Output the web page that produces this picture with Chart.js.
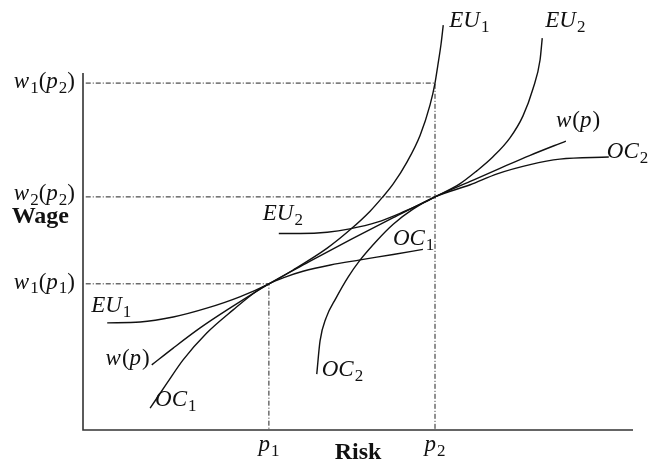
<!DOCTYPE html>
<html><head><meta charset="utf-8">
<script src="https://cdn.jsdelivr.net/npm/chart.js@4"></script>
<style>html,body{margin:0;padding:0;background:#fff;} canvas{display:block;}</style>
</head><body>
<canvas id="c" width="652" height="462"></canvas>
<script>
// ---- tick positions and labels ----
const riskTicks = [33.8, 64.0];
const riskTickLabels = ['p_1', 'p_2'];
const wageTicks = [34.8, 55.5, 82.6];
const wageTickLabels = ['w_1(p_1)', 'w_2(p_2)', 'w_1(p_2)'];
const axisTitles = ['Risk', 'Wage'];
const axisMax = [100, 85];

// ---- curves (risk, wage) ----
const eu1Risk = [4.4, 10.4, 16.4, 22.5, 28.5, 33.8, 38.2, 44.4, 48.5, 52.2, 54.5, 56.4, 58.9, 61.3, 63.1, 64.0, 64.5, 65.1, 65.5];
const eu1Wage = [25.5, 25.7, 26.9, 29.0, 31.7, 34.8, 38.1, 43.3, 47.6, 52.1, 55.5, 58.6, 63.8, 70.2, 77.4, 82.6, 86.7, 91.9, 96.4];

const eu2Risk = [35.6, 39.5, 44.4, 48.5, 53.5, 58.2, 61.3, 64.0, 68.5, 71.6, 74.5, 77.6, 80.0, 81.8, 83.1, 83.5];
const eu2Wage = [46.8, 46.8, 47.1, 47.9, 49.5, 51.9, 53.7, 55.5, 58.6, 61.7, 65.0, 69.5, 74.8, 81.2, 88.1, 93.3];

const wRisk = [12.5, 16.4, 21.3, 26.7, 33.8, 41.3, 48.9, 56.5, 64.0, 70.4, 75.8, 81.3, 87.8];
const wWage = [15.5, 19.5, 24.3, 29.0, 34.8, 40.2, 45.5, 50.6, 55.5, 59.2, 62.3, 65.4, 68.8];

const oc1Risk = [12.2, 15.3, 18.2, 22.5, 27.3, 31.6, 33.8, 36.5, 40.0, 45.0, 50.4, 56.4, 61.8];
const oc1Wage = [5.2, 11.2, 16.7, 23.1, 28.6, 33.1, 34.8, 36.3, 37.8, 39.3, 40.5, 41.8, 43.0];

const oc2Risk = [42.5, 43.1, 44.2, 46.0, 48.2, 50.4, 53.5, 56.4, 60.0, 64.0, 70.4, 75.3, 81.3, 86.7, 95.6];
const oc2Wage = [13.3, 21.2, 26.7, 31.4, 36.4, 40.5, 45.2, 49.0, 52.6, 55.5, 58.4, 61.0, 63.2, 64.5, 65.0];

const curveNames = ['EU_1', 'EU_2', 'w(p)', 'OC_1', 'OC_2'];

// ---- helpers ----
const pts = (xs, ys) => xs.map((x, i) => ({x: x, y: ys[i]}));
const FAM = '"Liberation Serif","Times New Roman",serif';

function segs(str) {
  const out = [];
  for (let i = 0; i < str.length; i++) {
    let ch = str[i], sub = false;
    if (ch === '_') { sub = true; ch = str[++i]; }
    const italic = /[A-Za-z]/.test(ch);
    const last = out[out.length - 1];
    if (last && last.sub === sub && last.italic === italic) last.t += ch;
    else out.push({t: ch, sub: sub, italic: italic});
  }
  return out;
}
function drawRich(ctx, str, x, y, align, size) {
  const parts = segs(str);
  const fontOf = p => (p.italic ? 'italic ' : '') + (p.sub ? Math.round(size * 0.72) : size) + 'px ' + FAM;
  let w = 0;
  parts.forEach(p => { ctx.font = fontOf(p); p.w = ctx.measureText(p.t).width + (p.italic ? 1 : 0); w += p.w; });
  let cx = align === 'right' ? x - w : align === 'center' ? x - w / 2 : x;
  ctx.textAlign = 'left';
  ctx.textBaseline = 'alphabetic';
  parts.forEach(p => { ctx.font = fontOf(p); ctx.fillText(p.t, cx, y + (p.sub ? size * 0.2 : 0)); cx += p.w; });
}

const curveStyle = {showLine: true, borderColor: '#111', borderWidth: 1.4, pointRadius: 0, cubicInterpolationMode: 'monotone', fill: false};
const guideStyle = {showLine: true, borderColor: '#222', borderWidth: 1, pointRadius: 0, tension: 0, borderDash: [5, 2, 1, 2], fill: false};

const curves = [[eu1Risk, eu1Wage], [eu2Risk, eu2Wage], [wRisk, wWage], [oc1Risk, oc1Wage], [oc2Risk, oc2Wage]];

const datasets = curves.map((c, i) => Object.assign({label: curveNames[i], data: pts(c[0], c[1])}, curveStyle));
datasets.push(Object.assign({label: 'g1', data: [{x: 0.5, y: wageTicks[2]}, {x: riskTicks[1], y: wageTicks[2]}, {x: riskTicks[1], y: 0}]}, guideStyle));
datasets.push(Object.assign({label: 'g2', data: [{x: 0.5, y: wageTicks[1]}, {x: riskTicks[1], y: wageTicks[1]}]}, guideStyle));
datasets.push(Object.assign({label: 'g3', data: [{x: 0.5, y: wageTicks[0]}, {x: riskTicks[0], y: wageTicks[0]}, {x: riskTicks[0], y: 0}]}, guideStyle));

// label placement relative to curve start / end (pixels)
const labelPlace = [
  {end: [6, 2, 'left'],   start: [-16, -11, 'left']},
  {end: [3, -11, 'left'], start: [-16, -13, 'left']},
  {end: [-10, -14, 'left'], start: [-2, 0, 'right']},
  {end: [-30, -4, 'left'], start: [5, -2, 'left']},
  {end: [-2, 1, 'left'],  start: [5, 2, 'left']}
];

const bg = {id: 'bg', beforeDraw(ch) { const c = ch.ctx; c.save(); c.fillStyle = '#fff'; c.fillRect(0, 0, ch.width, ch.height); c.restore(); }};

const deco = {
  id: 'deco',
  afterDraw(ch) {
    const c = ch.ctx, xs = ch.scales.x, ys = ch.scales.y;
    c.save();
    // axes
    c.strokeStyle = '#333'; c.lineWidth = 1.6; c.setLineDash([]);
    c.beginPath();
    c.moveTo(xs.getPixelForValue(0), ys.getPixelForValue(axisMax[1]));
    c.lineTo(xs.getPixelForValue(0), ys.getPixelForValue(0));
    c.lineTo(xs.getPixelForValue(axisMax[0]), ys.getPixelForValue(0));
    c.stroke();
    c.fillStyle = '#111';
    const size = 23;
    // x tick labels
    riskTicks.forEach((t, i) => drawRich(c, riskTickLabels[i], xs.getPixelForValue(t), ys.getPixelForValue(0) + 21, 'center', size));
    // y tick labels
    wageTicks.forEach((t, i) => drawRich(c, wageTickLabels[i], xs.getPixelForValue(0) - 8, ys.getPixelForValue(t) + (i === 1 ? 3 : 5), 'right', size));
    // axis titles
    c.font = 'bold 24px ' + FAM; c.textAlign = 'center'; c.textBaseline = 'alphabetic';
    c.fillText(axisTitles[0], (ch.chartArea.left + ch.chartArea.right) / 2, ys.getPixelForValue(0) + 29);
    c.textAlign = 'right';
    c.fillText(axisTitles[1], xs.getPixelForValue(0) - 14, ys.getPixelForValue(wageTicks[1]) + 26);
    // curve labels
    curves.forEach((cv, i) => {
      const n = cv[0].length;
      const s = [xs.getPixelForValue(cv[0][0]), ys.getPixelForValue(cv[1][0])];
      const e = [xs.getPixelForValue(cv[0][n - 1]), ys.getPixelForValue(cv[1][n - 1])];
      const pe = labelPlace[i].end, ps = labelPlace[i].start;
      drawRich(c, curveNames[i], e[0] + pe[0], e[1] + pe[1], pe[2], size);
      drawRich(c, curveNames[i], s[0] + ps[0], s[1] + ps[1], ps[2], size);
    });
    c.restore();
  }
};

new Chart(document.getElementById('c'), {
  type: 'scatter',
  data: {datasets: datasets},
  options: {
    responsive: false, animation: false, devicePixelRatio: 1,
    layout: {padding: {left: 83, right: 19, top: 10, bottom: 32}},
    scales: {
      x: {type: 'linear', min: 0, max: 100, display: false},
      y: {type: 'linear', min: 0, max: 100, display: false}
    },
    plugins: {legend: {display: false}, tooltip: {enabled: false}},
    elements: {point: {radius: 0}}
  },
  plugins: [bg, deco]
});
</script>
</body></html>
